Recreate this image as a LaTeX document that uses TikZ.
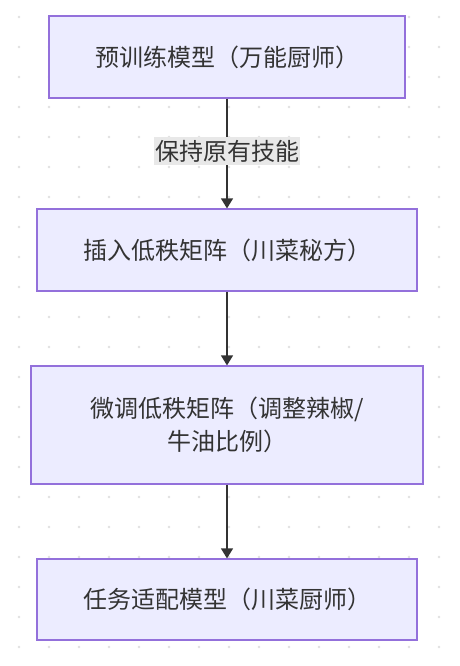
\documentclass[tikz,border=0pt]{standalone}
\usepackage{fontspec}
\usepackage{xcolor}
\setmainfont{Noto Sans CJK SC}
\usetikzlibrary{arrows.meta,positioning}
\definecolor{boxfill}{HTML}{ECECFF}
\definecolor{boxline}{HTML}{9370DB}
\definecolor{inkgray}{HTML}{333333}
\definecolor{labelbg}{HTML}{E8E8E8}
\definecolor{dotgray}{HTML}{E0E0E0}

\begin{document}
\begin{tikzpicture}[
    x=1pt, y=-1pt,
    stagebox/.style={
        draw=boxline,
        line width=1.2pt,
        fill=boxfill,
        text=inkgray,
        font=\fontsize{24}{33}\selectfont,
        align=center,
        inner sep=0pt
        },
    flow/.style={
        draw=inkgray,
        line width=1.2pt,
        -{Triangle[width=12pt,length=10pt]}
        },
    flowlabel/.style={
        fill=labelbg,
        text=inkgray,
        font=\fontsize{24}{28}\selectfont,
        inner xsep=1pt,
        inner ysep=3pt
        }
    ]
    \useasboundingbox (0,0) rectangle (459,666);

    % dotted background
    \foreach \i in {0,...,15} {
        \foreach \j in {0,...,21} {
            \fill[dotgray] (19+30*\i,17+30*\j) circle (1.4pt);
        }
    }

    \node[stagebox, minimum width=356pt, minimum height=82pt] (pretrain) at (227,57) {预训练模型（万能厨师）};

    \node[stagebox, minimum width=380pt, minimum height=82pt] (insert) at (227,250) {插入低秩矩阵（川菜秘方）};

    \node[stagebox, minimum width=392pt, minimum height=118pt] (tune) at (227,425) {微调低秩矩阵（调整辣椒/\\牛油比例）};

    \node[stagebox, minimum width=380pt, minimum height=81pt] (adapted) at (227,599.5) {任务适配模型（川菜厨师）};

    \draw[flow] (pretrain) -- (insert) node[flowlabel, pos=0.48] {保持原有技能};
    \draw[flow] (insert) -- (tune);
    \draw[flow] (tune) -- (adapted);

\end{tikzpicture}
\end{document}
